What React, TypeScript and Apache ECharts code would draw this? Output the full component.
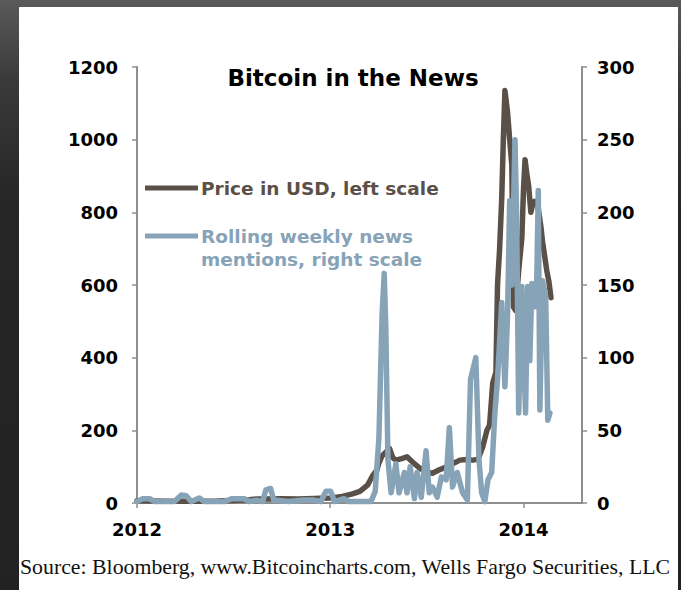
import React, { useEffect, useRef } from "react";
import * as echarts from "echarts";

// ---- Data ----
const priceDates: string[] = [
  "2012-01-01", "2012-02-01", "2012-03-01", "2012-04-01", "2012-05-01", "2012-06-01",
  "2012-07-01", "2012-08-01", "2012-08-15", "2012-09-01", "2012-10-01", "2012-11-01",
  "2012-12-01", "2012-12-12", "2013-01-01", "2013-01-20", "2013-02-12", "2013-02-26",
  "2013-03-13", "2013-03-22", "2013-03-30", "2013-04-03", "2013-04-09", "2013-04-16",
  "2013-04-23", "2013-04-29", "2013-05-05", "2013-05-16", "2013-05-26", "2013-06-06",
  "2013-06-19", "2013-07-01", "2013-07-13", "2013-07-27", "2013-08-08", "2013-08-20",
  "2013-09-03", "2013-09-16", "2013-09-27", "2013-10-07", "2013-10-16", "2013-10-24",
  "2013-10-29", "2013-11-04", "2013-11-10", "2013-11-13", "2013-11-17", "2013-11-21",
  "2013-11-24", "2013-11-27", "2013-12-02", "2013-12-06", "2013-12-10", "2013-12-12",
  "2013-12-13", "2013-12-17", "2013-12-23", "2013-12-29", "2014-01-01", "2014-01-04",
  "2014-01-07", "2014-01-11", "2014-01-15", "2014-01-18", "2014-01-22", "2014-01-28",
  "2014-02-03", "2014-02-06", "2014-02-10", "2014-02-14", "2014-02-18", "2014-02-22",
];
const priceValues: number[] = [
  6.5, 5.5, 5, 5, 5, 5.5,
  7, 9, 11, 11, 12, 11,
  12.5, 13, 14, 17, 25, 32,
  50, 75, 90, 110, 130, 140,
  150, 125, 118, 122, 127, 112,
  96, 85, 82, 92, 99, 108,
  118, 120, 118, 120, 154, 200,
  215, 330, 360, 600, 700, 840,
  1000, 1135, 1075, 1000, 930, 700,
  540, 530, 640, 730, 860, 945,
  910, 870, 800, 820, 830, 820,
  760, 720, 680, 640, 610, 565,
];

const newsDates: string[] = [
  "2012-01-01", "2012-01-12", "2012-01-25", "2012-02-03", "2012-03-12", "2012-03-25",
  "2012-04-03", "2012-04-13", "2012-04-28", "2012-05-07", "2012-06-14", "2012-06-29",
  "2012-07-12", "2012-07-22", "2012-07-31", "2012-08-15", "2012-08-26", "2012-09-01",
  "2012-09-10", "2012-09-16", "2012-10-14", "2012-11-12", "2012-12-01", "2012-12-14",
  "2012-12-24", "2013-01-02", "2013-01-09", "2013-01-27", "2013-02-05", "2013-03-19",
  "2013-03-27", "2013-04-03", "2013-04-09", "2013-04-13", "2013-04-16", "2013-04-20",
  "2013-04-26", "2013-05-05", "2013-05-11", "2013-05-21", "2013-05-26", "2013-06-01",
  "2013-06-09", "2013-06-14", "2013-06-22", "2013-07-01", "2013-07-07", "2013-07-13",
  "2013-07-22", "2013-07-30", "2013-08-08", "2013-08-14", "2013-08-20", "2013-08-29",
  "2013-09-08", "2013-09-17", "2013-09-23", "2013-09-27", "2013-10-03", "2013-10-09",
  "2013-10-14", "2013-10-20", "2013-10-26", "2013-11-02", "2013-11-08", "2013-11-13",
  "2013-11-21", "2013-11-27", "2013-12-02", "2013-12-06", "2013-12-10", "2013-12-16",
  "2013-12-19", "2013-12-23", "2013-12-29", "2014-01-01", "2014-01-05", "2014-01-09",
  "2014-01-13", "2014-01-17", "2014-01-22", "2014-01-26", "2014-01-29", "2014-02-01",
  "2014-02-06", "2014-02-12", "2014-02-16", "2014-02-20",
];
const newsValues: number[] = [
  1, 3, 3, 1, 1, 5.5,
  5, 1, 3.5, 1, 1, 3,
  3, 3, 1, 2, 1, 9,
  10, 2, 1, 2, 2, 1,
  8, 8, 1, 3, 1, 1,
  8, 45, 130, 158, 120, 30,
  7, 27, 7, 21, 7, 25,
  3, 21, 4, 36, 7, 11,
  4, 18, 16, 52, 11, 21,
  7, 2, 85, 91, 100, 30,
  7, 1, 16, 21, 62, 85,
  138, 80, 130, 208, 150, 250,
  200, 62, 149, 107, 62, 149,
  98, 151, 135, 150, 215, 64,
  153, 142, 57, 62,
];

const xTickLabels: number[] = [2012, 2013, 2014];
const leftAxisMax = 1200;
const leftAxisStep = 200;
const rightAxisMax = 300;
const rightAxisStep = 50;

const titleText = "Bitcoin in the News";
const priceName = "Price in USD, left scale";
const newsName = "Rolling weekly news\nmentions, right scale";
const sourceText = "Source: Bloomberg, www.Bitcoincharts.com, Wells Fargo Securities, LLC";

// ---- helpers ----
function toYear(d: string): number {
  const dt = Date.parse(d + "T00:00:00Z");
  const y = new Date(dt).getUTCFullYear();
  const s = Date.UTC(y, 0, 1);
  const e = Date.UTC(y + 1, 0, 1);
  return y + (dt - s) / (e - s);
}

const PRICE_COLOR = "#5b5048";
const NEWS_COLOR = "#87a3b8";
const AXIS_COLOR = "#8e8e8e";
const FONT = "'DejaVu Sans', Verdana, sans-serif";

export default function App() {
  const ref = useRef<HTMLDivElement>(null);

  useEffect(() => {
    if (!ref.current) return;
    const chart = echarts.init(ref.current, undefined, { renderer: "svg" });

    const priceData = priceDates.map((d, i) => [toYear(d), priceValues[i]]);
    const newsData = newsDates.map((d, i) => [toYear(d), newsValues[i]]);

    const axisLabelStyle = {
      color: "#000",
      fontWeight: "bold" as const,
      fontSize: 18,
      fontFamily: FONT,
    };
    const plain = (v: number) => String(Math.round(v));

    chart.setOption({
      animation: false,
      backgroundColor: "#ffffff",
      title: {
        text: titleText,
        left: 329,
        top: 54,
        textAlign: "center",
        textStyle: {
          color: "#000",
          fontWeight: "bold",
          fontSize: 23,
          fontFamily: FONT,
        },
      },
      grid: { left: 118, right: 96, top: 60, bottom: 87, containLabel: false },
      xAxis: {
        type: "value",
        min: 2012,
        max: 2014.303,
        interval: 1,
        splitLine: { show: false },
        axisLine: { show: true, lineStyle: { color: AXIS_COLOR, width: 2 } },
        axisTick: {
          show: true,
          length: 5,
          customValues: xTickLabels,
          lineStyle: { color: AXIS_COLOR, width: 1.5 },
        },
        axisLabel: {
          ...axisLabelStyle,
          margin: 17,
          customValues: xTickLabels,
          formatter: plain,
        },
      },
      yAxis: [
        {
          type: "value",
          min: 0,
          max: leftAxisMax,
          interval: leftAxisStep,
          position: "left",
          splitLine: { show: false },
          axisLine: { show: true, lineStyle: { color: AXIS_COLOR, width: 2 } },
          axisTick: { show: true, length: 5, lineStyle: { color: AXIS_COLOR, width: 1.5 } },
          axisLabel: { ...axisLabelStyle, margin: 19, formatter: plain },
        },
        {
          type: "value",
          min: 0,
          max: rightAxisMax,
          interval: rightAxisStep,
          position: "right",
          splitLine: { show: false },
          axisLine: { show: true, lineStyle: { color: AXIS_COLOR, width: 2 } },
          axisTick: { show: true, length: 5, lineStyle: { color: AXIS_COLOR, width: 1.5 } },
          axisLabel: { ...axisLabelStyle, margin: 15, formatter: plain },
        },
      ],
      series: [
        {
          name: priceName,
          type: "line",
          yAxisIndex: 0,
          data: priceData,
          showSymbol: false,
          symbol: "none",
          lineStyle: { color: PRICE_COLOR, width: 5.5, join: "round", cap: "round" },
          itemStyle: { color: PRICE_COLOR },
          z: 2,
        },
        {
          name: newsName,
          type: "line",
          yAxisIndex: 1,
          data: newsData,
          showSymbol: false,
          symbol: "none",
          lineStyle: { color: NEWS_COLOR, width: 5.5, join: "round", cap: "round" },
          itemStyle: { color: NEWS_COLOR },
          z: 3,
        },
      ],
      graphic: [
        {
          type: "line",
          shape: { x1: 126, y1: 181, x2: 179, y2: 181 },
          style: { stroke: PRICE_COLOR, lineWidth: 5 },
        },
        {
          type: "text",
          x: 182,
          y: 181,
          style: {
            text: priceName,
            fill: PRICE_COLOR,
            font: `bold 18.5px ${FONT}`,
            verticalAlign: "middle",
          },
        },
        {
          type: "line",
          shape: { x1: 126, y1: 229, x2: 179, y2: 229 },
          style: { stroke: NEWS_COLOR, lineWidth: 5 },
        },
        {
          type: "text",
          x: 182,
          y: 217.5,
          style: {
            text: newsName,
            fill: NEWS_COLOR,
            font: `bold 18.5px ${FONT}`,
            verticalAlign: "top",
            lineHeight: 23,
          },
        },
        {
          type: "text",
          x: 1,
          y: 560,
          style: {
            text: sourceText,
            fill: "#111",
            font: "21.8px 'Liberation Serif', 'Times New Roman', serif",
            verticalAlign: "middle",
          },
        },
      ],
    });

    return () => chart.dispose();
  }, []);

  return (
    <div
      style={{
        position: "fixed",
        left: 0,
        top: 0,
        width: 681,
        height: 590,
        background: "linear-gradient(to bottom, #5a5a5a 0px, #3a3a3a 80px, #262626 200px, #222 100%)",
        overflow: "hidden",
      }}
    >
      <div
        ref={ref}
        style={{ position: "absolute", left: 19, top: 7, width: 659, height: 583, background: "#fff" }}
      />
    </div>
  );
}
